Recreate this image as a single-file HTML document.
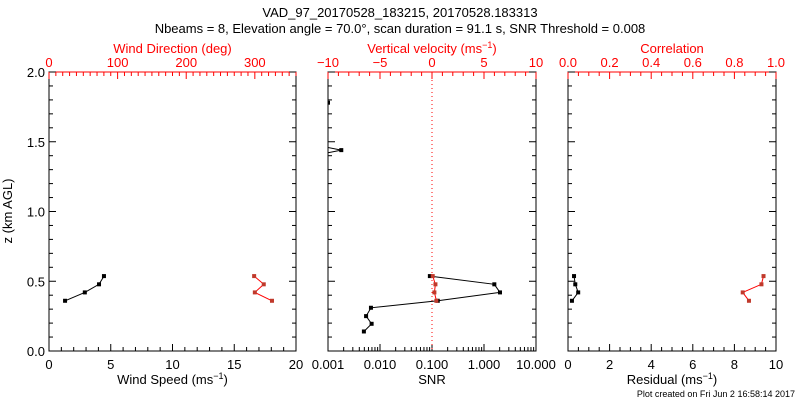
<!DOCTYPE html>
<html><head><meta charset="utf-8"><style>
body{margin:0;background:#fff}
svg{display:block;font-family:"Liberation Sans",sans-serif}
</style></head><body>
<svg id="c" width="800" height="400" xmlns="http://www.w3.org/2000/svg">
<text x="400" y="17" font-size="13" text-anchor="middle">VAD_97_20170528_183215, 20170528.183313</text>
<text x="400" y="33" font-size="13" text-anchor="middle">Nbeams = 8, Elevation angle = 70.0°, scan duration = 91.1 s, SNR Threshold = 0.008</text>
<text x="795" y="397" font-size="9" text-anchor="end">Plot created on Fri Jun  2 16:58:14 2017</text>
</svg>
<script>
// data
const heights = [0.537, 0.478, 0.42, 0.36];
const windSpeed = [4.45, 4.05, 2.9, 1.3];
const windDir = [299, 313, 300, 325];
const snrHeights = [1.78, 1.47, 1.44, 1.41, 0.537, 0.478, 0.42, 0.36, 0.31, 0.25, 0.195, 0.14];
const snrValues = [0.001, 0.0007, 0.0018, 0.0007, 0.091, 1.58, 2.03, 0.129, 0.0067, 0.0054, 0.0069, 0.0049];
const snrMarker = [true, false, true, false, true, true, true, true, true, true, true, true];
const wVel = [0.07, 0.33, 0.23, 0.42];
const residual = [0.29, 0.35, 0.49, 0.19];
const correlation = [0.94, 0.93, 0.84, 0.87];
const yTicks = ['0.0', '0.5', '1.0', '1.5', '2.0'];

const svg = document.getElementById('c');
const NS = 'http://www.w3.org/2000/svg';
const RED = '#ff0000', MRED = '#c0392b';
const TOP = 72, BOT = 351;
const yS = z => BOT - z / 2 * (BOT - TOP);
function mk(tag, attrs, parent) {
  const e = document.createElementNS(NS, tag);
  for (const k in attrs) e.setAttribute(k, attrs[k]);
  (parent || svg).appendChild(e);
  return e;
}
function txt(x, y, s, col, anchor, size) {
  const t = mk('text', {x: x, y: y, fill: col, 'font-size': size || 13, 'text-anchor': anchor || 'middle'});
  t.textContent = s;
  return t;
}
const panels = [[49, 296], [328, 536], [568, 776]];
panels.forEach((p, i) => {
  const r = mk('rect', {x: p[0], y: TOP, width: p[1] - p[0], height: BOT - TOP, fill: 'none', stroke: '#000'});
  
  
  mk('line', {x1: p[0], x2: p[1], y1: TOP, y2: TOP, stroke: RED});
  for (let z = 0; z <= 2.0001; z += 0.1) {
    const maj = Math.abs(z * 2 - Math.round(z * 2)) < 1e-6;
    const L = maj ? 7 : 4, y = yS(z);
    mk('line', {x1: p[0], x2: p[0] + L, y1: y, y2: y, stroke: '#000'});
    mk('line', {x1: p[1], x2: p[1] - L, y1: y, y2: y, stroke: '#000'});
  }
});
yTicks.forEach(s => {
  const t = txt(45, yS(parseFloat(s)) + 5, s, '#000', 'end');
  
  
});
const yt = txt(0, 0, 'z (km AGL)', '#000');
yt.setAttribute('transform', 'translate(12,211) rotate(-90)');



function linAxis(x0, x1, lo, hi, minor, major, labels, top, col, title, dec) {
  const f = v => x0 + (v - lo) / (hi - lo) * (x1 - x0);
  const y = top ? TOP : BOT, d = top ? 1 : -1;
  const n = Math.round((hi - lo) / minor);
  for (let k = 0; k <= n; k++) {
    const v = lo + k * minor;
    const maj = Math.abs((v - lo) / major - Math.round((v - lo) / major)) < 1e-6;
    mk('line', {x1: f(v), x2: f(v), y1: y, y2: y + d * (maj ? 7 : 4), stroke: col});
  }
  labels.forEach(v => {
    const t = txt(f(v), top ? y - 5 : y + 18, dec != null ? v.toFixed(dec) : (v < 0 ? '\u2212' + (-v) : String(v)), col);
    
    
  });
  const tt = mk('text', {x: (x0 + x1) / 2, y: top ? y - 19 : y + 33, fill: col, 'font-size': 13, 'text-anchor': 'middle'});
  tt.innerHTML = title;
  
  
  return f;
}
const sup = '<tspan dy="-5" font-size="9">−1</tspan><tspan dy="5">)</tspan>';
const fWS = linAxis(49, 296, 0, 20, 1, 5, [0, 5, 10, 15, 20], false, '#000', 'Wind Speed (ms' + sup);
const fWD = linAxis(49, 296, 0, 360, 10, 100, [0, 100, 200, 300], true, RED, 'Wind Direction (deg)');
const fW = linAxis(328, 536, -10, 10, 1, 5, [-10, -5, 0, 5, 10], true, RED, 'Vertical velocity (ms' + sup);
const fR = linAxis(568, 776, 0, 10, 0.5, 2, [0, 2, 4, 6, 8, 10], false, '#000', 'Residual (ms' + sup);
const fC = linAxis(568, 776, 0, 1, 0.05, 0.2, [0, 0.2, 0.4, 0.6, 0.8, 1.0], true, RED, 'Correlation', 1);

// log SNR axis
const fS = v => 328 + (Math.log10(v) + 3) * 52;
for (let e = -3; e <= 1; e++) {
  for (let m = 1; m <= 9; m++) {
    const v = m * Math.pow(10, e);
    if (v > 10.0001) break;
    mk('line', {x1: fS(v), x2: fS(v), y1: BOT, y2: BOT - (m === 1 ? 7 : 4), stroke: '#000'});
  }
}
['0.001', '0.010', '0.100', '1.000', '10.000'].forEach(s => {
  const t = txt(fS(parseFloat(s)), BOT + 18, s, '#000');
  
  
});
const st = txt(432, BOT + 33, 'SNR', '#000');



const zl = mk('line', {x1: fW(0), x2: fW(0), y1: TOP, y2: BOT, stroke: RED, 'stroke-dasharray': '1,3'});



const clip = mk('clipPath', {id: 'cp'});
mk('rect', {x: 328, y: TOP, width: 208, height: BOT - TOP}, clip);

function series(xs, zs, fx, lineCol, mcol, name, markers, clipped) {
  const g = mk('g', clipped ? {'clip-path': 'url(#cp)'} : {});
  
  
  const pts = xs.map((v, i) => fx(v).toFixed(1) + ',' + yS(zs[i]).toFixed(1));
  if (clipped) {
    mk('polyline', {points: pts.slice(0, 1).join(' '), fill: 'none', stroke: lineCol}, g);
    mk('polyline', {points: pts.slice(1, 4).join(' '), fill: 'none', stroke: lineCol}, g);
    mk('polyline', {points: pts.slice(4).join(' '), fill: 'none', stroke: lineCol}, g);
  } else {
    mk('polyline', {points: pts.join(' '), fill: 'none', stroke: lineCol}, g);
  }
  xs.forEach((v, i) => {
    if (markers && !markers[i]) return;
    const c = mk('rect', {x: fx(v) - 2, y: yS(zs[i]) - 2, width: 4, height: 4, fill: mcol}, g);
    
    
  });
}
series(windSpeed, heights, fWS, '#000', '#000', 'wind-speed-series');
series(windDir, heights, fWD, RED, MRED, 'wind-direction-series');
series(snrValues, snrHeights, fS, '#000', '#000', 'snr-series', snrMarker, true);
series(wVel, heights, fW, RED, MRED, 'vertical-velocity-series');
series(residual, heights, fR, '#000', '#000', 'residual-series');
series(correlation, heights, fC, RED, MRED, 'correlation-series');
</script>
</body></html>
